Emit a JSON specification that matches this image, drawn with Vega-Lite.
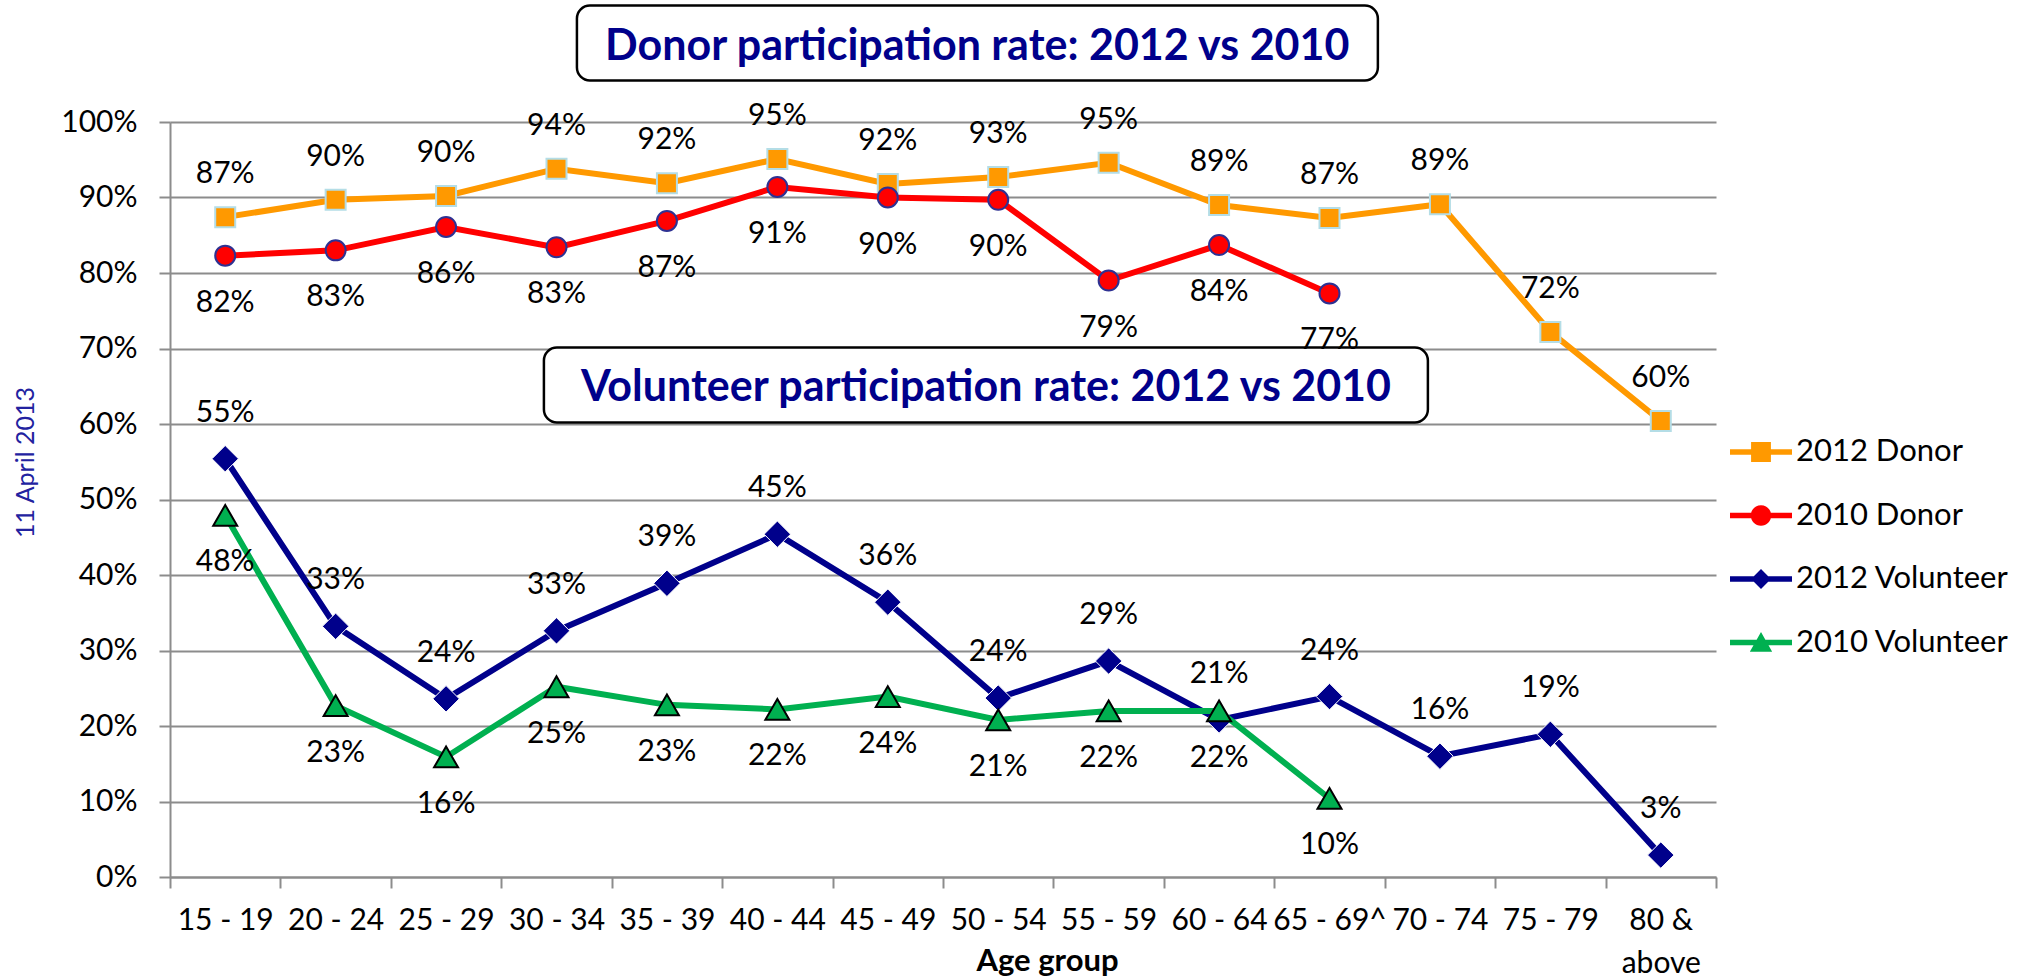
{
  "$schema": "https://vega.github.io/schema/vega-lite/v6.json",
  "width": 1546,
  "height": 755,
  "autosize": "none",
  "padding": {"left": 170, "top": 122, "right": 324, "bottom": 101},
  "background": "white",
  "config": {"view": {"stroke": null}, "font": "Lato"},
  "datasets": {
    "rates": [
      {"age": "15 - 19", "series": "2012 Donor", "rate": 0.874},
      {"age": "20 - 24", "series": "2012 Donor", "rate": 0.897},
      {"age": "25 - 29", "series": "2012 Donor", "rate": 0.902},
      {"age": "30 - 34", "series": "2012 Donor", "rate": 0.938},
      {"age": "35 - 39", "series": "2012 Donor", "rate": 0.919},
      {"age": "40 - 44", "series": "2012 Donor", "rate": 0.951},
      {"age": "45 - 49", "series": "2012 Donor", "rate": 0.918},
      {"age": "50 - 54", "series": "2012 Donor", "rate": 0.927},
      {"age": "55 - 59", "series": "2012 Donor", "rate": 0.946},
      {"age": "60 - 64", "series": "2012 Donor", "rate": 0.890},
      {"age": "65 - 69^", "series": "2012 Donor", "rate": 0.873},
      {"age": "70 - 74", "series": "2012 Donor", "rate": 0.891},
      {"age": "75 - 79", "series": "2012 Donor", "rate": 0.722},
      {"age": "80 & above", "series": "2012 Donor", "rate": 0.604},
      {"age": "15 - 19", "series": "2010 Donor", "rate": 0.823},
      {"age": "20 - 24", "series": "2010 Donor", "rate": 0.830},
      {"age": "25 - 29", "series": "2010 Donor", "rate": 0.861},
      {"age": "30 - 34", "series": "2010 Donor", "rate": 0.834},
      {"age": "35 - 39", "series": "2010 Donor", "rate": 0.869},
      {"age": "40 - 44", "series": "2010 Donor", "rate": 0.914},
      {"age": "45 - 49", "series": "2010 Donor", "rate": 0.900},
      {"age": "50 - 54", "series": "2010 Donor", "rate": 0.897},
      {"age": "55 - 59", "series": "2010 Donor", "rate": 0.790},
      {"age": "60 - 64", "series": "2010 Donor", "rate": 0.837},
      {"age": "65 - 69^", "series": "2010 Donor", "rate": 0.773},
      {"age": "15 - 19", "series": "2012 Volunteer", "rate": 0.554},
      {"age": "20 - 24", "series": "2012 Volunteer", "rate": 0.332},
      {"age": "25 - 29", "series": "2012 Volunteer", "rate": 0.236},
      {"age": "30 - 34", "series": "2012 Volunteer", "rate": 0.326},
      {"age": "35 - 39", "series": "2012 Volunteer", "rate": 0.389},
      {"age": "40 - 44", "series": "2012 Volunteer", "rate": 0.454},
      {"age": "45 - 49", "series": "2012 Volunteer", "rate": 0.364},
      {"age": "50 - 54", "series": "2012 Volunteer", "rate": 0.237},
      {"age": "55 - 59", "series": "2012 Volunteer", "rate": 0.286},
      {"age": "60 - 64", "series": "2012 Volunteer", "rate": 0.208},
      {"age": "65 - 69^", "series": "2012 Volunteer", "rate": 0.239},
      {"age": "70 - 74", "series": "2012 Volunteer", "rate": 0.160},
      {"age": "75 - 79", "series": "2012 Volunteer", "rate": 0.189},
      {"age": "80 & above", "series": "2012 Volunteer", "rate": 0.029},
      {"age": "15 - 19", "series": "2010 Volunteer", "rate": 0.479},
      {"age": "20 - 24", "series": "2010 Volunteer", "rate": 0.227},
      {"age": "25 - 29", "series": "2010 Volunteer", "rate": 0.159},
      {"age": "30 - 34", "series": "2010 Volunteer", "rate": 0.252},
      {"age": "35 - 39", "series": "2010 Volunteer", "rate": 0.228},
      {"age": "40 - 44", "series": "2010 Volunteer", "rate": 0.222},
      {"age": "45 - 49", "series": "2010 Volunteer", "rate": 0.239},
      {"age": "50 - 54", "series": "2010 Volunteer", "rate": 0.208},
      {"age": "55 - 59", "series": "2010 Volunteer", "rate": 0.220},
      {"age": "60 - 64", "series": "2010 Volunteer", "rate": 0.220},
      {"age": "65 - 69^", "series": "2010 Volunteer", "rate": 0.104}
    ]
  },
  "layer": [
    {
      "data": {"values": [{"note": "titles"}]},
      "layer": [
        {
          "mark": {"type": "rect", "fill": "white", "stroke": "black", "strokeWidth": 2.5, "cornerRadius": 13},
          "encoding": {
            "x": {"datum": 3.685, "type": "quantitative", "scale": {"domain": [0, 14], "nice": false, "zero": false}, "axis": null},
            "x2": {"datum": 10.938},
            "y": {"datum": 1.1543, "type": "quantitative", "scale": {"domain": [0, 1], "nice": false}, "axis": null},
            "y2": {"datum": 1.055}
          }
        },
        {
          "mark": {"type": "rect", "fill": "white", "stroke": "black", "strokeWidth": 2.5, "cornerRadius": 13},
          "encoding": {
            "x": {"datum": 3.386, "type": "quantitative", "scale": {"domain": [0, 14], "nice": false, "zero": false}, "axis": null},
            "x2": {"datum": 11.391},
            "y": {"datum": 0.7013, "type": "quantitative", "scale": {"domain": [0, 1], "nice": false}, "axis": null},
            "y2": {"datum": 0.602}
          }
        },
        {
          "mark": {"type": "text", "text": "Donor participation rate: 2012 vs 2010", "font": "Lato", "fontWeight": "bold", "fontSize": 43, "color": "#00008B", "align": "center", "baseline": "middle"},
          "encoding": {
            "x": {"datum": 7.31, "type": "quantitative", "scale": {"domain": [0, 14], "nice": false, "zero": false}, "axis": null},
            "y": {"datum": 1.0988, "type": "quantitative", "scale": {"domain": [0, 1], "nice": false}, "axis": null}
          }
        },
        {
          "mark": {"type": "text", "text": "Volunteer participation rate: 2012 vs 2010", "font": "Lato", "fontWeight": "bold", "fontSize": 43, "color": "#00008B", "align": "center", "baseline": "middle"},
          "encoding": {
            "x": {"datum": 7.389, "type": "quantitative", "scale": {"domain": [0, 14], "nice": false, "zero": false}, "axis": null},
            "y": {"datum": 0.6481, "type": "quantitative", "scale": {"domain": [0, 1], "nice": false}, "axis": null}
          }
        }
      ]
    },
    {
      "data": {"name": "rates"},
      "encoding": {
        "x": {
          "field": "age", "type": "nominal",
          "scale": {"type": "band", "domain": ["15 - 19", "20 - 24", "25 - 29", "30 - 34", "35 - 39", "40 - 44", "45 - 49", "50 - 54", "55 - 59", "60 - 64", "65 - 69^", "70 - 74", "75 - 79", "80 & above"], "paddingInner": 0, "paddingOuter": 0},
          "axis": {
            "title": "Age group", "titleFont": "Lato", "titleFontWeight": "bold", "titleFontSize": 31, "titleColor": "black",
            "titleX": 877, "titleY": 93, "titleBaseline": "alphabetic", "titleAlign": "center",
            "tickBand": "extent", "tickSize": 11, "tickColor": "#8c8c8c", "tickWidth": 2,
            "domainColor": "#8c8c8c", "domainWidth": 2, "grid": false,
            "labelAngle": 0, "labelFont": "Lato", "labelFontSize": 30, "labelColor": "black", "labelPadding": 17,
            "labelOverlap": false, "labelLineHeight": 43,
            "labelExpr": "datum.value == '80 & above' ? ['80 &', 'above'] : datum.value"
          }
        },
        "y": {
          "field": "rate", "type": "quantitative",
          "scale": {"domain": [0, 1], "nice": false},
          "axis": {
            "values": [0, 0.1, 0.2, 0.3, 0.4, 0.5, 0.6, 0.7, 0.8, 0.9, 1],
            "format": ".0%", "grid": true, "gridColor": "#8c8c8c", "gridWidth": 2,
            "tickSize": 11, "tickColor": "#8c8c8c", "tickWidth": 2,
            "domainColor": "#8c8c8c", "domainWidth": 2,
            "labelFont": "Lato", "labelFontSize": 30, "labelColor": "black", "labelPadding": 22,
            "title": "11 April 2013", "titleFont": "Lato", "titleFontSize": 25, "titleFontWeight": "normal",
            "titleColor": "#2222a0", "titleX": -137, "titleY": 340, "titleBaseline": "alphabetic", "titleAlign": "center", "titleAngle": 270
          }
        }
      },
      "layer": [
        {
          "mark": {"type": "point", "filled": true, "opacity": 0},
          "encoding": {
            "color": {
              "field": "series", "type": "nominal",
              "scale": {"domain": ["2012 Donor", "2010 Donor", "2012 Volunteer", "2010 Volunteer"], "range": ["#FF9900", "#FF0000", "#00008B", "#00B050"]},
              "legend": {"title": null, "orient": "none", "legendX": 1560, "legendY": 299, "direction": "vertical", "symbolSize": 3844, "symbolStrokeWidth": 0, "symbolOpacity": 1, "labelFont": "Lato", "labelFontSize": 31, "labelColor": "black", "labelOffset": 4, "rowPadding": 17.5, "padding": 0, "labelLimit": 500}
            },
            "shape": {
              "field": "series", "type": "nominal",
              "scale": {"domain": ["2012 Donor", "2010 Donor", "2012 Volunteer", "2010 Volunteer"], "range": [
                "M-1,-0.09H1V0.09H-1Z M-0.32,-0.32H0.32V0.32H-0.32Z",
                "M-1,-0.09H1V0.09H-1Z M-0.33,0A0.33,0.33 0 1,1 0.33,0A0.33,0.33 0 1,1 -0.33,0Z",
                "M-1,-0.09H1V0.09H-1Z M0,-0.32L0.32,0L0,0.32L-0.32,0Z",
                "M-1,-0.09H1V0.09H-1Z M0,-0.34L0.36,0.3L-0.36,0.3Z"
              ]},
              "legend": {"title": null, "orient": "none", "legendX": 1560, "legendY": 299, "direction": "vertical", "symbolSize": 3844, "symbolStrokeWidth": 0, "symbolOpacity": 1, "labelFont": "Lato", "labelFontSize": 31, "labelColor": "black", "labelOffset": 4, "rowPadding": 17.5, "padding": 0, "labelLimit": 500}
            }
          }
        },
        {
          "transform": [{"filter": "datum.series === '2012 Donor'"}],
          "mark": {"type": "line", "color": "#FF9900", "strokeWidth": 6}
        },
        {
          "transform": [{"filter": "datum.series === '2012 Donor'"}],
          "mark": {"type": "point", "shape": "square", "filled": true, "fill": "#FF9900", "stroke": "#B4DDE6", "strokeWidth": 2, "size": 400, "opacity": 1}
        },
        {
          "transform": [{"filter": "datum.series === '2010 Donor'"}],
          "mark": {"type": "line", "color": "#FF0000", "strokeWidth": 6}
        },
        {
          "transform": [{"filter": "datum.series === '2010 Donor'"}],
          "mark": {"type": "point", "shape": "circle", "filled": true, "fill": "#FF0000", "stroke": "#2E3192", "strokeWidth": 2, "size": 400, "opacity": 1}
        },
        {
          "transform": [{"filter": "datum.series === '2012 Volunteer'"}],
          "mark": {"type": "line", "color": "#00008B", "strokeWidth": 6}
        },
        {
          "transform": [{"filter": "datum.series === '2012 Volunteer'"}],
          "mark": {"type": "point", "shape": "diamond", "filled": true, "fill": "#00008B", "stroke": "white", "strokeWidth": 1, "size": 700, "opacity": 1}
        },
        {
          "transform": [{"filter": "datum.series === '2010 Volunteer'"}],
          "mark": {"type": "line", "color": "#00B050", "strokeWidth": 6}
        },
        {
          "transform": [{"filter": "datum.series === '2010 Volunteer'"}],
          "mark": {"type": "point", "shape": "triangle-up", "filled": true, "fill": "#00B050", "stroke": "black", "strokeWidth": 2, "size": 576, "opacity": 1}
        },
        {
          "transform": [{"filter": "datum.series === '2012 Donor'"}],
          "mark": {"type": "text", "font": "Lato", "fontSize": 30, "color": "black", "dy": -43, "align": "center", "baseline": "middle"},
          "encoding": {"text": {"field": "rate", "type": "quantitative", "format": ".0%"}}
        },
        {
          "transform": [{"filter": "datum.series === '2012 Volunteer'"}],
          "mark": {"type": "text", "font": "Lato", "fontSize": 30, "color": "black", "dy": -46, "align": "center", "baseline": "middle"},
          "encoding": {"text": {"field": "rate", "type": "quantitative", "format": ".0%"}}
        },
        {
          "transform": [{"filter": "datum.series === '2010 Donor' || datum.series === '2010 Volunteer'"}],
          "mark": {"type": "text", "font": "Lato", "fontSize": 30, "color": "black", "dy": 47, "align": "center", "baseline": "middle"},
          "encoding": {"text": {"field": "rate", "type": "quantitative", "format": ".0%"}}
        }
      ]
    }
  ],
  "resolve": {"scale": {"x": "independent", "y": "independent"}}
}
